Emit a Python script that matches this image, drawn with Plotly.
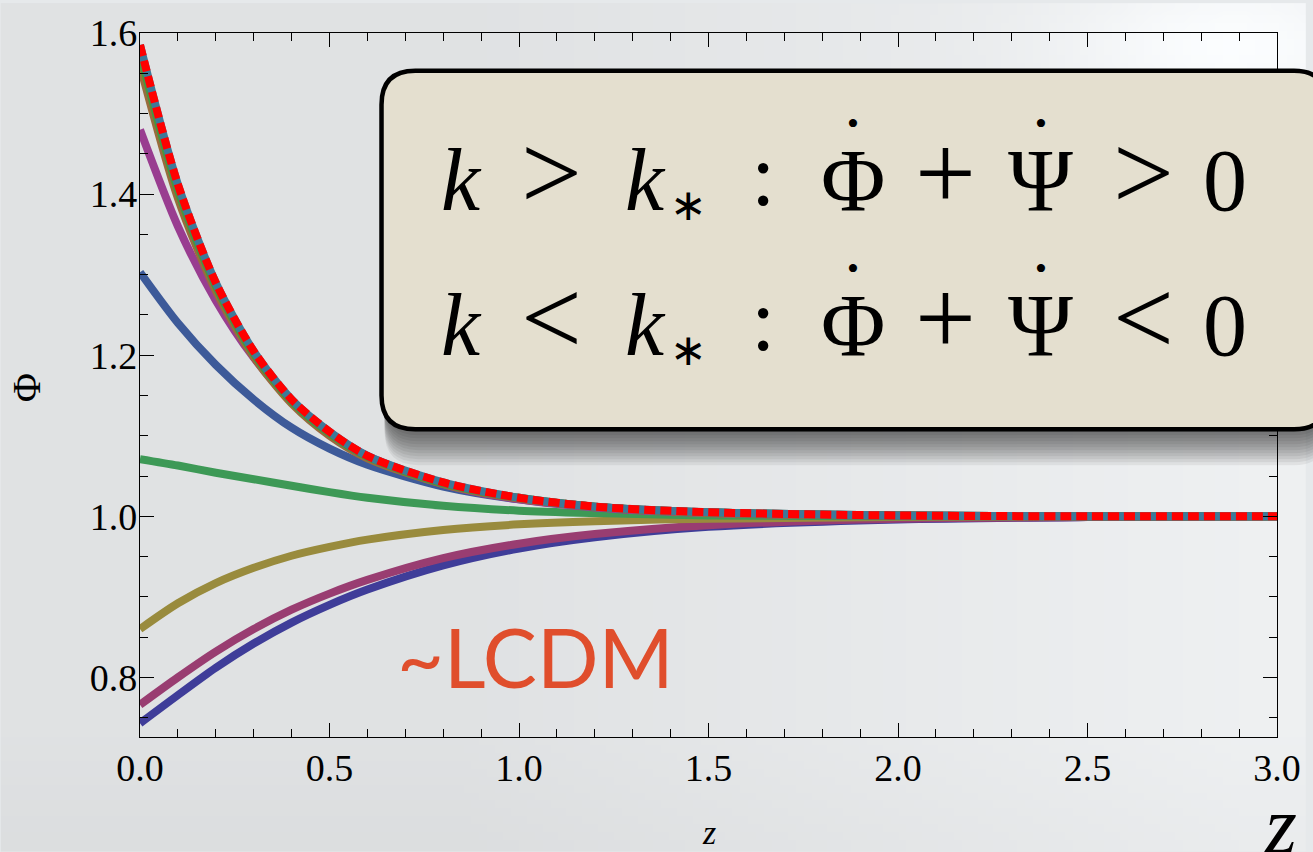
import base64
import struct
import zlib

import numpy as np
import plotly.graph_objects as go

# ---------------------------------------------------------------- data
z = [0.0, 0.1, 0.2, 0.3, 0.4, 0.5, 0.6, 0.8, 1.0, 1.2, 1.5, 2.0, 2.5, 3.0]

phi_indigo = [0.743, 0.778, 0.812, 0.842, 0.868, 0.890, 0.909, 0.939, 0.960, 0.974, 0.987, 0.996, 0.999, 1.0]
phi_maroon = [0.766, 0.800, 0.832, 0.860, 0.884, 0.904, 0.921, 0.948, 0.966, 0.978, 0.989, 0.997, 0.999, 1.0]
phi_olive = [0.860, 0.892, 0.917, 0.936, 0.951, 0.962, 0.971, 0.983, 0.990, 0.994, 0.997, 0.999, 1.0, 1.0]
phi_green = [1.071, 1.063, 1.054, 1.046, 1.038, 1.030, 1.023, 1.013, 1.007, 1.004, 1.001, 1.0, 1.0, 1.0]
phi_blue = [1.303, 1.240, 1.188, 1.145, 1.110, 1.084, 1.064, 1.037, 1.021, 1.012, 1.005, 1.001, 1.0, 1.0]
phi_purple = [1.480, 1.360, 1.268, 1.197, 1.143, 1.104, 1.075, 1.040, 1.021, 1.011, 1.004, 1.001, 1.0, 1.0]
phi_brown = [1.560, 1.395, 1.280, 1.198, 1.140, 1.100, 1.072, 1.040, 1.022, 1.012, 1.004, 1.001, 1.0, 1.0]
phi_lime = [1.575, 1.405, 1.286, 1.202, 1.143, 1.103, 1.074, 1.041, 1.023, 1.012, 1.005, 1.001, 1.0, 1.0]
phi_teal = [1.585, 1.412, 1.290, 1.205, 1.145, 1.105, 1.075, 1.042, 1.023, 1.012, 1.005, 1.001, 1.0, 1.0]

series = [
    (phi_indigo, "#3f3d99"),
    (phi_maroon, "#993d71"),
    (phi_olive, "#998b3d"),
    (phi_green, "#3d9956"),
    (phi_blue, "#3d5a99"),
    (phi_purple, "#993d90"),
    (phi_brown, "#996c3d"),
    (phi_lime, "#43993d"),
    (phi_teal, "#3d7999"),
]

x_ticks = [0.0, 0.5, 1.0, 1.5, 2.0, 2.5, 3.0]
y_ticks = [0.8, 1.0, 1.2, 1.4, 1.6]

# ---------------------------------------------------------------- geometry
W, H = 1313, 852
L, R, T, B = 140, 1284, 30, 737  # plot area edges in pixels


def X(px):
    return (px - L) / (R - L)


def Y(py):
    return (B - py) / (B - T)


def rounded_rect(x0, y0, x1, y1, r):
    return (
        f"M {X(x0 + r)},{Y(y0)} L {X(x1 - r)},{Y(y0)} "
        f"Q {X(x1)},{Y(y0)} {X(x1)},{Y(y0 + r)} L {X(x1)},{Y(y1 - r)} "
        f"Q {X(x1)},{Y(y1)} {X(x1 - r)},{Y(y1)} L {X(x0 + r)},{Y(y1)} "
        f"Q {X(x0)},{Y(y1)} {X(x0)},{Y(y1 - r)} L {X(x0)},{Y(y0 + r)} "
        f"Q {X(x0)},{Y(y0)} {X(x0 + r)},{Y(y0)} Z"
    )


def png_uri(rgb):
    h, w, _ = rgb.shape
    raw = b"".join(b"\x00" + rgb[i].tobytes() for i in range(h))

    def chunk(tag, data):
        c = struct.pack(">I", len(data)) + tag + data
        return c + struct.pack(">I", zlib.crc32(tag + data) & 0xFFFFFFFF)

    png = b"\x89PNG\r\n\x1a\n"
    png += chunk(b"IHDR", struct.pack(">IIBBBBB", w, h, 8, 2, 0, 0, 0))
    png += chunk(b"IDAT", zlib.compress(raw, 9))
    png += chunk(b"IEND", b"")
    return "data:image/png;base64," + base64.b64encode(png).decode()


# soft grey backdrop, lighter towards the right and around the top-right corner
gw, gh = 165, 107
gx, gy = np.meshgrid(np.linspace(0, W, gw), np.linspace(0, H, gh))
g = 226 + 14 * np.clip((gx / W - 0.35) / 0.6, 0, 1)
g += 14 * np.exp(-(((gx - 1230) / 170) ** 2 + ((gy - 40) / 70) ** 2))
g -= 4 * np.clip((gy - 740) / 110, 0, 1)
bg = np.stack([g - 2, g, g + 1.5], axis=-1).clip(0, 255).astype(np.uint8)

# ---------------------------------------------------------------- traces
fig = go.Figure()
for vals, col in series:
    fig.add_trace(go.Scatter(
        x=z, y=vals, mode="lines",
        line=dict(color=col, width=8, shape="spline", smoothing=0.8),
        hoverinfo="skip", showlegend=False,
    ))
fig.add_trace(go.Scatter(
    x=z, y=phi_teal, mode="lines",
    line=dict(color="#ff0000", width=8, shape="spline", smoothing=0.8, dash="11px,5px"),
    hoverinfo="skip", showlegend=False,
))

# ---------------------------------------------------------------- box with shadow
shapes = []
for i in range(1, 13):
    shapes.append(dict(
        type="path", xref="paper", yref="paper", layer="above",
        path=rounded_rect(386, 70 + 2 * i, 1335, 428 + 3 * i, 34),
        fillcolor="rgba(0,0,0,0.06)", line=dict(width=0),
    ))
shapes.append(dict(
    type="path", xref="paper", yref="paper", layer="above",
    path=rounded_rect(383, 68, 1335, 428, 34),
    fillcolor="#e4dfcf", line=dict(color="black", width=4.5),
))

serif = "Liberation Serif, Times New Roman, serif"


def label(text, cx, cy, size, family=serif, color="black", angle=0):
    return dict(text=text, x=X(cx), y=Y(cy), xref="paper", yref="paper",
                xanchor="center", yanchor="middle", showarrow=False, textangle=angle,
                font=dict(family=family, size=size, color=color))


annotations = []
# the two inequalities, set symbol by symbol
for rel, cy in ((">", 178), ("<", 324)):
    annotations += [
        label("<i>k</i>", 463, cy, 88),
        label(rel, 554, cy - 8, 108),
        label("<i>k</i>", 649, cy, 88),
        label("\u2217", 692, cy + 24, 44, family="DejaVu Sans"),
        label(":", 767, cy - 5, 88),
        label("\u03a6", 857, cy, 88),
        label("\u2022", 857, cy - 57, 34),
        label("+", 950, cy - 8, 108),
        label("\u03a8", 1046, cy, 88),
        label("\u2022", 1047, cy - 57, 34),
        label(rel, 1150, cy - 8, 108),
        label("0", 1232, cy, 88),
    ]

annotations += [
    label("~LCDM", 538, 656, 81, family="Lato, Open Sans, sans-serif", color="#e04e2c"),
    label("<i>z</i>", 713, 833, 34),
    label("\u03a6", 26, 386, 40, angle=-90),
    label("<i>z</i>", 1288, 826, 82),
]

axis_common = dict(
    showline=True, linecolor="black", linewidth=1.2, mirror="allticks",
    ticks="inside", tickcolor="black", tickwidth=1.2, ticklen=14,
    showgrid=False, zeroline=False,
    tickfont=dict(family=serif, size=38, color="black"),
)

fig.update_layout(
    width=W, height=H,
    margin=dict(l=L, r=W - R, t=T, b=H - B, pad=0),
    paper_bgcolor="#e6e9eb", plot_bgcolor="rgba(0,0,0,0)",
    xaxis=dict(range=[0, 3], tickvals=x_ticks, tickformat=".1f", ticklabelstandoff=-3,
               minor=dict(dtick=0.1, ticks="inside", ticklen=8, tickcolor="black", tickwidth=1.2),
               **axis_common),
    yaxis=dict(range=[0.726, 1.6], tickvals=y_ticks, tickformat=".1f", ticklabelstandoff=-6,
               minor=dict(dtick=0.05, ticks="inside", ticklen=8, tickcolor="black", tickwidth=1.2),
               **axis_common),
    shapes=shapes,
    annotations=annotations,
    images=[dict(source=png_uri(bg), xref="paper", yref="paper",
                 x=X(0), y=Y(0), sizex=X(W) - X(0), sizey=Y(0) - Y(H),
                 xanchor="left", yanchor="top", sizing="stretch", layer="below")],
)

fig.write_html("out.html")
